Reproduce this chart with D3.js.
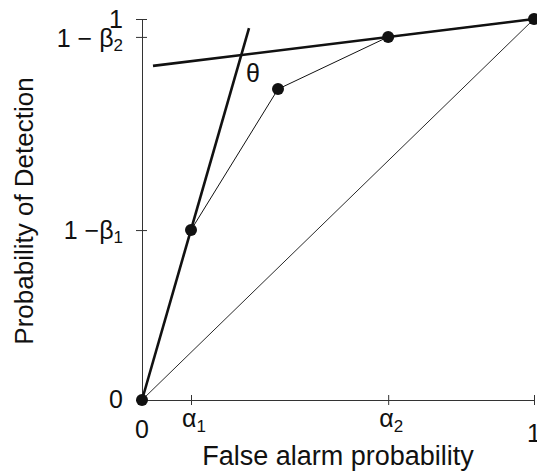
<!DOCTYPE html>
<html><head><meta charset="utf-8">
<script src="https://cdn.jsdelivr.net/npm/d3@7"></script>
<style>
body{margin:0;background:#fff;}
svg{display:block;font-family:"Liberation Sans",Arial,sans-serif;}
</style></head><body>
<svg id="c" width="537" height="474"></svg>
<script>
// ROC operating points
const rocX = [0, 0.125, 0.347, 0.628, 1];
const rocY = [0, 0.446, 0.816, 0.953, 1];
// tangent (thick) lines, endpoints
const line1X = [0, 0.273];
const line1Y = [0, 0.976];
const line2X = [0.028, 1];
const line2Y = [0.877, 1];
// chance diagonal
const diagX = [0, 1];
const diagY = [0, 1];
// ticks
const xTickValues = [0, 0.125, 0.628, 1];
const xTickLabels = [["0",""],["α","1"],["α","2"],["1",""]];
const yTickValues = [0, 0.446, 0.953, 1];
const yTickLabels = [["0",""],["1 −β","1"],["1 − β","2"],["1",""]];
const thetaPos = [0.283, 0.856];

const svg = d3.select("#c");
const x = d3.scaleLinear().domain([0,1]).range([142,534]);
const y = d3.scaleLinear().domain([0,1]).range([400,19]);
const ink = "#111";

// axes
const gx = svg.append("g").attr("transform","translate(0,400)")
  .call(d3.axisBottom(x).tickValues(xTickValues).tickFormat("").tickSizeOuter(0));
gx.select(".domain").attr("stroke","#333").attr("stroke-width",1);
gx.selectAll(".tick line").attr("y1",-5).attr("y2",5).attr("stroke","#333");
const gy = svg.append("g").attr("transform","translate(142,0)")
  .call(d3.axisLeft(y).tickValues(yTickValues).tickFormat("").tickSizeOuter(0));
gy.select(".domain").attr("stroke","#333").attr("stroke-width",1);
gy.selectAll(".tick line").attr("x1",-6).attr("x2",5).attr("stroke","#333");

function label(parts, xx, yy, anchor, subDy){
  const t = svg.append("text").attr("x",xx).attr("y",yy).attr("text-anchor",anchor)
    .attr("font-size",25).attr("fill",ink);
  t.append("tspan").text(parts[0]);
  if(parts[1]) t.append("tspan").attr("font-size",17).attr("dy",subDy).text(parts[1]);
  return t;
}
// x tick labels
xTickValues.forEach((v,i)=>{
  const lab = xTickLabels[i];
  if(lab[1]) label(lab, x(v)-9, 427, "start", 5);
  else label(lab, x(v), i===0 ? 438 : 442, "middle", 0);
});
// y tick labels
const yBase = [408, 239, 47, 28];
yTickValues.forEach((v,i)=>{
  const lab = yTickLabels[i];
  label(lab, 123, yBase[i], "end", 4);
});

// axis titles
svg.append("text").attr("x",338).attr("y",465).attr("text-anchor","middle")
  .attr("font-size",27).attr("fill",ink).text("False alarm probability");
svg.append("text").attr("transform","translate(33,211) rotate(-90)")
  .attr("text-anchor","middle").attr("font-size",26).attr("fill",ink)
  .text("Probability of Detection");

const ln = d3.line().x(d=>x(d[0])).y(d=>y(d[1]));
const zip = (a,b)=>a.map((v,i)=>[v,b[i]]);

// thin lines
svg.append("path").attr("d",ln(zip(diagX,diagY))).attr("fill","none").attr("stroke",ink).attr("stroke-width",0.9);
svg.append("path").attr("d",ln(zip(rocX,rocY))).attr("fill","none").attr("stroke",ink).attr("stroke-width",1);
// thick lines
svg.append("path").attr("d",ln(zip(line1X,line1Y))).attr("fill","none").attr("stroke",ink).attr("stroke-width",2.6);
svg.append("path").attr("d",ln(zip(line2X,line2Y))).attr("fill","none").attr("stroke",ink).attr("stroke-width",2.6);

// points
svg.selectAll("circle.p").data(zip(rocX,rocY)).join("circle").attr("class","p")
  .attr("cx",d=>x(d[0])).attr("cy",d=>y(d[1])).attr("r",6).attr("fill",ink);

// theta
svg.append("text").attr("x",x(thetaPos[0])).attr("y",y(thetaPos[1])+8)
  .attr("text-anchor","middle").attr("font-size",25).attr("fill",ink).text("θ");
</script>
</body></html>
